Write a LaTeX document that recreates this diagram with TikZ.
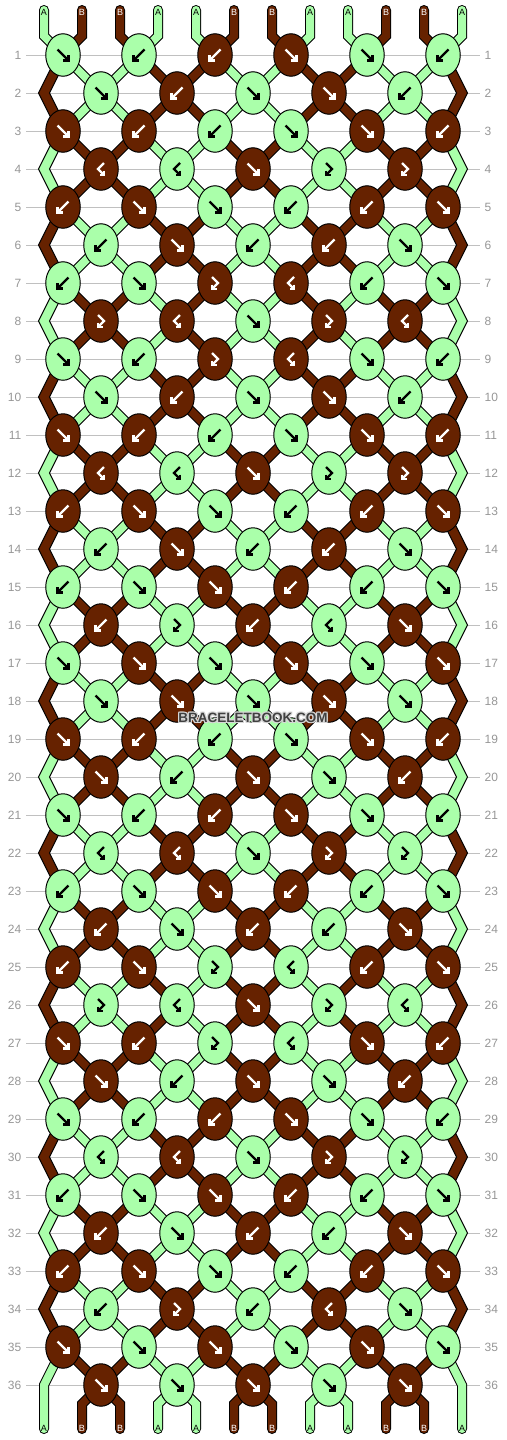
\documentclass[tikz,border=0pt]{standalone}
\usepackage{fontspec}
\setmainfont{Liberation Sans}
\usetikzlibrary{shapes.geometric}
\definecolor{gA}{RGB}{170,255,170}
\definecolor{gB}{RGB}{102,34,0}
\definecolor{rowgray}{RGB}{192,192,192}
\definecolor{numgray}{RGB}{150,150,150}
\definecolor{wmgray}{RGB}{64,64,64}
\definecolor{wmhalo}{RGB}{215,215,215}
\def\stateseq{{0,1,1,0,0,1,1,2,2,1,1,0,0,1,1,0,0,1,1,0,0,1,1,0,0,3,3,0,0,1,1,0,0,1,1,0,0}}
\def\statearr{{0,1,1,0,0,1,1,0,0,1,1,0,1,0,0,1,1,0,0,1,1,0,0,1,0,1,1,0,1,0,0,1,0,1,1,0,1,0,0,1,0,1,1,0,1,0,0,1}}
\newcommand\strcol[2]{%
  \pgfmathtruncatemacro\sst{\stateseq[#1]}%
  \pgfmathtruncatemacro\scc{\statearr[12*\sst+#2-1]}%
  \ifnum\scc=0 \def\scol{gA}\else\def\scol{gB}\fi}
\newcommand\allstrings[1]{%
  \foreach \p in {1,...,12}{\strcol{0}{\p}\draw[#1=\scol] (T-\p) -- (P-0-\p) -- (P-1-\p);}
  \foreach \r in {1,...,35}{%
    \pgfmathtruncatemacro\rn{\r+1}%
    \foreach \p in {2,...,11}{\strcol{\r}{\p}\draw[#1=\scol] (P-\r-\p) -- (P-\rn-\p);}}
  \foreach \p in {2,...,11}{\strcol{36}{\p}\draw[#1=\scol] (P-36-\p) -- (P-37-\p) -- (E-\p);}
  \foreach \p in {1,12}{\strcol{35}{\p}\draw[#1=\scol] (P-35-\p) -- (P-36-\p) -- (E-\p);}
}
\newcommand\glF{\draw (-5.5,-5.5) -- (5,5); \draw (5.5,0) -- (5.5,5.5) -- (0,5.5);}
\newcommand\glB{\draw (5.5,-5.5) -- (-5,5); \draw (-5.5,0) -- (-5.5,5.5) -- (0,5.5);}
\newcommand\glFB{\draw (-3,-6) -- (3,0) -- (-2.5,5.5); \draw (-3,1.5) -- (-3,6) -- (1.5,6);}
\newcommand\glBF{\draw (3,-6) -- (-3,0) -- (2.5,5.5); \draw (3,1.5) -- (3,6) -- (-1.5,6);}
\begin{document}
\begin{tikzpicture}[x=1pt,y=-1pt,
  knot/.style={ellipse, draw=black, line width=1pt, minimum width=34.5pt, minimum height=42.5pt, inner sep=0pt},
  so/.style={line width=10pt, draw=black, line cap=round, line join=miter},
  sf/.style={line width=8pt, draw=#1, line cap=round, line join=miter},
  glyph/.style={line width=2.2pt, line cap=butt, line join=miter},
  rowline/.style={draw=rowgray, line width=1pt},
  rownum/.style={text=numgray, inner sep=0pt, font=\fontsize{12}{12}\selectfont},
  endlab/.style={inner sep=0pt, font=\fontsize{9}{9}\selectfont},
  wm/.style={inner sep=0pt, font=\fontsize{13.5}{14}\selectfont\bfseries}]
\useasboundingbox (0,0) rectangle (506,1440);
% coordinates
\foreach \p in {1,...,12}{
  \pgfmathsetmacro\xx{44+38*(\p-1)}
  \coordinate (T-\p) at (\xx,10);
  \coordinate (E-\p) at (\xx,1429);
  \coordinate (P-0-\p) at (\xx,36);
  \coordinate (P-37-\p) at (\xx,1404);
}
\foreach \r in {1,...,36}{
  \pgfmathsetmacro\yy{55+38*(\r-1)}
  \foreach \p in {1,...,12}{
    \ifodd\r
      \pgfmathsetmacro\xx{63+76*floor((\p-1)/2)}
    \else
      \ifnum\p=1 \def\xx{44}\else\ifnum\p=12 \def\xx{462}\else\pgfmathsetmacro\xx{101+76*(floor(\p/2)-1)}\fi\fi
    \fi
    \coordinate (P-\r-\p) at (\xx,\yy);
  }
}
% row lines and numbers
\foreach \r in {1,...,36}{
  \pgfmathsetmacro\yy{55+38*(\r-1)}
  \coordinate (la-\r) at (26,\yy);
  \coordinate (lb-\r) at (480,\yy);
  \draw[rowline] (la-\r) -- (lb-\r);
  \node[rownum, anchor=east] (nl-\r) at (21.5,\yy) {\r};
  \node[rownum, anchor=west] (nr-\r) at (484.5,\yy) {\r};
}
% strings
\allstrings{so}
\allstrings{sf}
% edge zigzags
\foreach \r in {2,4,...,34}{
  \pgfmathtruncatemacro\rp{\r-1}
  \pgfmathtruncatemacro\rn{\r+1}
  \foreach \p in {1,12}{
    \strcol{\r}{\p}
    \filldraw[fill=\scol, draw=black, line width=1pt]
      ([xshift=-5.5pt]P-\rp-\p) -- ([xshift=-5.5pt]P-\r-\p) -- ([xshift=-5.5pt]P-\rn-\p) --
      ([xshift=5.5pt]P-\rn-\p) -- ([xshift=5.5pt]P-\r-\p) -- ([xshift=5.5pt]P-\rp-\p) -- cycle;
  }
}
% knots
\foreach \r/\tl in {1/{1,2,2,1,1,2},2/{1,2,1,1,2},3/{1,2,2,1,1,2},4/{4,4,1,3,3},
  5/{2,1,1,2,2,1},6/{2,1,2,2,1},7/{2,1,3,4,2,1},8/{3,4,1,3,4},9/{1,2,3,4,1,2},
  10/{1,2,1,1,2},11/{1,2,2,1,1,2},12/{4,4,1,3,3},13/{2,1,1,2,2,1},14/{2,1,2,2,1},
  15/{2,1,1,2,2,1},16/{2,3,2,4,1},17/{1,1,1,1,1,1},18/{1,1,1,1,1},19/{1,2,2,1,1,2},
  20/{1,2,1,1,2},21/{1,2,2,1,1,2},22/{4,4,1,3,3},23/{2,1,1,2,2,1},24/{2,1,2,2,1},
  25/{2,1,3,4,2,1},26/{3,4,1,3,4},27/{1,2,3,4,1,2},28/{1,2,1,1,2},29/{1,2,2,1,1,2},
  30/{4,4,1,3,3},31/{2,1,1,2,2,1},32/{2,1,2,2,1},33/{2,1,1,2,2,1},34/{2,3,2,4,1},
  35/{1,1,1,1,1,1},36/{1,1,1,1,1}}{
  \pgfmathtruncatemacro\rp{\r-1}
  \foreach \t [count=\k] in \tl {
    \ifodd\r \pgfmathtruncatemacro\pl{2*\k-1}\else\pgfmathtruncatemacro\pl{2*\k}\fi
    \pgfmathtruncatemacro\pr{\pl+1}
    \ifnum\t=1 \let\pc\pl\else\ifnum\t=3 \let\pc\pl\else\let\pc\pr\fi\fi
    \strcol{\rp}{\pc}
    \node[knot, fill=\scol] (K-\r-\k) at (P-\r-\pl) {};
    \ifnum\scc=0 \def\gc{black}\else\def\gc{white}\fi
    \begin{scope}[shift={(K-\r-\k.center)}, glyph, color=\gc]
      \ifnum\t=1 \glF\fi
      \ifnum\t=2 \glB\fi
      \ifnum\t=3 \glFB\fi
      \ifnum\t=4 \glBF\fi
    \end{scope}
  }
}
% end labels
\foreach \p in {1,4,5,8,9,12}{
  \pgfmathsetmacro\xx{44+38*(\p-1)}
  \node[endlab, text=black] (ta-\p) at (\xx,12.5) {A};
  \node[endlab, text=black] (ba-\p) at (\xx,1428) {A};
}
\foreach \p in {2,3,6,7,10,11}{
  \pgfmathsetmacro\xx{44+38*(\p-1)}
  \node[endlab, text=white] (tb-\p) at (\xx,12.5) {B};
  \node[endlab, text=white] (bb-\p) at (\xx,1428) {B};
}
% watermark
\foreach \dx/\dy [count=\i] in {-1/0,1/0,0/-1,0/1,-1/-1,1/1,-1/1,1/-1}{
  \node[wm, text=wmhalo] (wmh-\i) at (253+\dx,718+\dy) {BRACELETBOOK.COM};
}
\node[wm, text=wmgray] (wm) at (253,718) {BRACELETBOOK.COM};
\end{tikzpicture}
\end{document}
